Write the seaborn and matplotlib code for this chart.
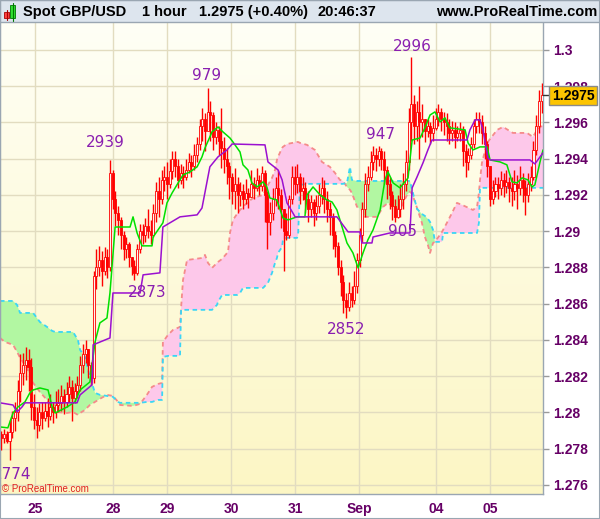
import numpy as np
import matplotlib
matplotlib.use('Agg')
import matplotlib.pyplot as plt
from matplotlib.patches import Rectangle
from matplotlib.colors import LinearSegmentedColormap
import seaborn as sns

# ---- hourly candles (open = previous close) ----
first_open = 1.2788
close = [
    1.2786, 1.2788, 1.2784, 1.2789, 1.2797, 1.2800, 1.2812, 1.2822,
    1.2826, 1.2829, 1.2825, 1.2803, 1.2796, 1.2793, 1.2800, 1.2797,
    1.2801, 1.2798, 1.2803, 1.2800, 1.2804, 1.2805, 1.2809, 1.2806,
    1.2810, 1.2814, 1.2808, 1.2812, 1.2815, 1.2826, 1.2832, 1.2835,
    1.2826, 1.2819, 1.2875, 1.2880, 1.2884, 1.2878, 1.2886, 1.2880,
    1.2932, 1.2918, 1.2910, 1.2906, 1.2898, 1.2890, 1.2893, 1.2886,
    1.2881, 1.2877, 1.2890, 1.2900, 1.2898, 1.2903, 1.2900, 1.2898,
    1.2910, 1.2922, 1.2918, 1.2928, 1.2930, 1.2926, 1.2933, 1.2940,
    1.2936, 1.2928, 1.2932, 1.2930, 1.2934, 1.2938, 1.2936, 1.2942,
    1.2948, 1.2958, 1.2962, 1.2955, 1.2966, 1.2964, 1.2952, 1.2956,
    1.2950, 1.2946, 1.2940, 1.2936, 1.2930, 1.2922, 1.2926, 1.2920,
    1.2922, 1.2918, 1.2921, 1.2919, 1.2926, 1.2924, 1.2928, 1.2925,
    1.2932, 1.2920, 1.2905, 1.2910, 1.2918, 1.2924, 1.2920, 1.2912,
    1.2900, 1.2898, 1.2918, 1.2930, 1.2926, 1.2930, 1.2922, 1.2924,
    1.2918, 1.2912, 1.2916, 1.2910, 1.2914, 1.2920, 1.2924, 1.2918,
    1.2912, 1.2908, 1.2898, 1.2892, 1.2880, 1.2872, 1.2862, 1.2858,
    1.2866, 1.2862, 1.2870, 1.2884, 1.2898, 1.2912, 1.2926, 1.2930,
    1.2938, 1.2942, 1.2940, 1.2944, 1.2940, 1.2934, 1.2926, 1.2920,
    1.2914, 1.2908, 1.2912, 1.2918, 1.2926, 1.2938, 1.2960, 1.2970,
    1.2958, 1.2966, 1.2960, 1.2962, 1.2955, 1.2958, 1.2954, 1.2957,
    1.2962, 1.2966, 1.2962, 1.2960, 1.2958, 1.2954, 1.2956, 1.2952,
    1.2954, 1.2956, 1.2944, 1.2938, 1.2942, 1.2948, 1.2958, 1.2962,
    1.2960, 1.2954, 1.2948, 1.2936, 1.2918, 1.2922, 1.2926, 1.2924,
    1.2928, 1.2925, 1.2927, 1.2924, 1.2922, 1.2926, 1.2924, 1.2928,
    1.2924, 1.2920, 1.2926, 1.2930, 1.2945, 1.2958, 1.2972, 1.2975,
]
high = [
    1.2790, 1.2791, 1.2790, 1.2796, 1.2801, 1.2806, 1.2818, 1.2832,
    1.2833, 1.2836, 1.2835, 1.2830, 1.2810, 1.2803, 1.2805, 1.2806,
    1.2806, 1.2808, 1.2810, 1.2806, 1.2812, 1.2813, 1.2815, 1.2813,
    1.2817, 1.2820, 1.2818, 1.2816, 1.2820, 1.2831, 1.2838, 1.2840,
    1.2834, 1.2828, 1.2878, 1.2890, 1.2892, 1.2889, 1.2891, 1.2890,
    1.2939, 1.2934, 1.2922, 1.2914, 1.2908, 1.2900, 1.2897, 1.2894,
    1.2886, 1.2884, 1.2893, 1.2904, 1.2904, 1.2907, 1.2912, 1.2906,
    1.2915, 1.2927, 1.2930, 1.2934, 1.2936, 1.2938, 1.2940, 1.2944,
    1.2944, 1.2940, 1.2937, 1.2936, 1.2940, 1.2943, 1.2942, 1.2948,
    1.2952, 1.2962, 1.2968, 1.2965, 1.2979, 1.2972, 1.2966, 1.2960,
    1.2958, 1.2968, 1.2952, 1.2946, 1.2938, 1.2932, 1.2935, 1.2930,
    1.2927, 1.2926, 1.2929, 1.2924, 1.2934, 1.2930, 1.2935, 1.2931,
    1.2936, 1.2934, 1.2922, 1.2916, 1.2924, 1.2930, 1.2934, 1.2923,
    1.2912, 1.2910, 1.2920, 1.2936, 1.2936, 1.2937, 1.2932, 1.2930,
    1.2927, 1.2922, 1.2920, 1.2918, 1.2920, 1.2926, 1.2930, 1.2928,
    1.2922, 1.2916, 1.2910, 1.2900, 1.2894, 1.2884, 1.2876, 1.2866,
    1.2872, 1.2870, 1.2878, 1.2888, 1.2902, 1.2916, 1.2932, 1.2936,
    1.2944, 1.2947, 1.2946, 1.2947, 1.2946, 1.2944, 1.2936, 1.2930,
    1.2922, 1.2918, 1.2920, 1.2926, 1.2932, 1.2945, 1.2968, 1.2996,
    1.2975, 1.2972, 1.2980, 1.2970, 1.2960, 1.2962, 1.2960, 1.2964,
    1.2968, 1.2970, 1.2968, 1.2966, 1.2965, 1.2962, 1.2961, 1.2960,
    1.2958, 1.2960, 1.2958, 1.2948, 1.2946, 1.2952, 1.2962, 1.2966,
    1.2966, 1.2964, 1.2958, 1.2950, 1.2932, 1.2928, 1.2930, 1.2930,
    1.2933, 1.2932, 1.2934, 1.2930, 1.2930, 1.2934, 1.2931, 1.2936,
    1.2932, 1.2928, 1.2932, 1.2936, 1.2950, 1.2964, 1.2978, 1.2982,
]
low = [
    1.2779, 1.2783, 1.2783, 1.2774, 1.2786, 1.2790, 1.2795, 1.2806,
    1.2815, 1.2818, 1.2812, 1.2796, 1.2791, 1.2786, 1.2790, 1.2791,
    1.2795, 1.2792, 1.2796, 1.2794, 1.2797, 1.2800, 1.2801, 1.2799,
    1.2803, 1.2806, 1.2795, 1.2805, 1.2808, 1.2812, 1.2822, 1.2827,
    1.2819, 1.2815, 1.2816, 1.2868, 1.2875, 1.2870, 1.2876, 1.2874,
    1.2878, 1.2912, 1.2903, 1.2898, 1.2890, 1.2884, 1.2885, 1.2880,
    1.2876, 1.2873, 1.2876, 1.2888, 1.2893, 1.2894, 1.2896, 1.2893,
    1.2897, 1.2905, 1.2908, 1.2915, 1.2922, 1.2918, 1.2924, 1.2929,
    1.2930, 1.2924, 1.2926, 1.2924, 1.2928, 1.2932, 1.2930, 1.2934,
    1.2938, 1.2945, 1.2950, 1.2944, 1.2955, 1.2950, 1.2945, 1.2948,
    1.2942, 1.2935, 1.2932, 1.2926, 1.2918, 1.2915, 1.2912, 1.2910,
    1.2914, 1.2912, 1.2915, 1.2913, 1.2920, 1.2918, 1.2922, 1.2920,
    1.2922, 1.2905, 1.2890, 1.2898, 1.2906, 1.2914, 1.2912, 1.2902,
    1.2878, 1.2895, 1.2896, 1.2915, 1.2920, 1.2921, 1.2915, 1.2917,
    1.2910, 1.2905, 1.2908, 1.2903, 1.2906, 1.2910, 1.2915, 1.2910,
    1.2905, 1.2898, 1.2890, 1.2886, 1.2876, 1.2864, 1.2855, 1.2852,
    1.2856, 1.2858, 1.2860, 1.2866, 1.2880, 1.2894, 1.2908, 1.2922,
    1.2928, 1.2934, 1.2933, 1.2936, 1.2934, 1.2926, 1.2918, 1.2912,
    1.2906, 1.2905, 1.2907, 1.2908, 1.2912, 1.2922, 1.2934, 1.2950,
    1.2948, 1.2950, 1.2940, 1.2952, 1.2949, 1.2952, 1.2948, 1.2950,
    1.2956, 1.2958, 1.2955, 1.2953, 1.2950, 1.2948, 1.2950, 1.2946,
    1.2950, 1.2950, 1.2936, 1.2930, 1.2934, 1.2940, 1.2946, 1.2954,
    1.2954, 1.2948, 1.2940, 1.2930, 1.2914, 1.2915, 1.2919, 1.2918,
    1.2920, 1.2919, 1.2921, 1.2916, 1.2914, 1.2917, 1.2912, 1.2920,
    1.2916, 1.2909, 1.2916, 1.2922, 1.2928, 1.2942, 1.2954, 1.2965,
]

# ---- Ichimoku cloud (bar position, senkou A, senkou B) ----
cloud_x = [-0.5, 1.3, 4.3, 5.8, 6.9, 9.4, 11.7, 14.2, 16.8, 18.7, 19.8, 24.2,
           26.4, 28.2, 29.0, 30.8, 31.5, 32.6, 34.5, 36.3, 38.9, 41.1, 43.0,
           43.7, 48.5, 51.1, 53.6, 55.5, 57.7, 59.2, 59.5, 61.4, 63.2, 65.8,
           66.2, 66.9, 68.4, 73.9, 75.0, 76.1, 77.6, 79.4, 79.8, 81.3, 83.5,
           84.2, 85.3, 86.8, 87.9, 89.0, 90.5, 92.7, 96.4, 98.2, 99.7, 100.8,
           101.5, 101.9, 103.4, 103.7, 105.2, 108.9, 109.3, 110.0, 112.6,
           115.5, 118.1, 121.0, 122.9, 124.7, 125.8, 127.3, 128.4, 129.1,
           131.0, 132.8, 133.9, 138.4, 140.6, 142.4, 144.3, 146.8, 149.4,
           150.5, 151.3, 153.1, 154.9, 156.0, 157.1, 157.9, 159.0, 159.7,
           162.3, 162.7, 164.1, 166.0, 167.8, 169.7, 173.7, 175.2, 175.9,
           176.3, 177.0, 178.9, 182.6, 184.8, 188.4, 193.6, 195.8, 197.3, 199.5]
span_a = [1.28411, 1.28389, 1.28373, 1.28334, 1.28301, 1.28246, 1.28163,
          1.28113, 1.28069, 1.28030, 1.28003, 1.27997, 1.28003, 1.27986,
          1.27997, 1.28014, 1.28025, 1.28041, 1.28058, 1.28075, 1.28097,
          1.28091, 1.28058, 1.28041, 1.28036, 1.28047, 1.28097, 1.28141,
          1.28157, 1.28163, 1.28389, 1.28428, 1.28455, 1.28472, 1.28577,
          1.28731, 1.28841, 1.28852, 1.28869, 1.28825, 1.28797, 1.28825,
          1.28830, 1.28847, 1.28886, 1.28990, 1.29062, 1.29095, 1.29117,
          1.29134, 1.29156, 1.29183, 1.29200, 1.29255, 1.29294, 1.29338,
          1.29393, 1.29410, 1.29459, 1.29465, 1.29481, 1.29492, 1.29492,
          1.29487, 1.29476, 1.29448, 1.29382, 1.29355, 1.29321, 1.29283,
          1.29277, 1.29244, 1.29228, 1.29211, 1.29134, 1.29117, 1.29079,
          1.29079, 1.29134, 1.29156, 1.29134, 1.29117, 1.29200, 1.29217,
          1.29206, 1.29128, 1.29046, 1.28968, 1.28924, 1.28880, 1.28935,
          1.28941, 1.28996, 1.29007, 1.29046, 1.29101, 1.29156, 1.29145,
          1.29117, 1.29134, 1.29211, 1.29283, 1.29377, 1.29487, 1.29559,
          1.29575, 1.29542, 1.29542, 1.29520, 1.29559, 1.29586]
span_b = [1.28615, 1.28615, 1.28615, 1.28593, 1.28549, 1.28549, 1.28549,
          1.28499, 1.28472, 1.28450, 1.28444, 1.28444, 1.28444, 1.28400,
          1.28345, 1.28306, 1.28262, 1.28196, 1.28108, 1.28097, 1.28091,
          1.28086, 1.28058, 1.28053, 1.28053, 1.28053, 1.28058, 1.28058,
          1.28069, 1.28069, 1.28306, 1.28312, 1.28312, 1.28312, 1.28566,
          1.28566, 1.28566, 1.28566, 1.28566, 1.28566, 1.28566, 1.28593,
          1.28610, 1.28648, 1.28648, 1.28648, 1.28648, 1.28648, 1.28659,
          1.28687, 1.28687, 1.28687, 1.28687, 1.28715, 1.28770, 1.28825,
          1.28852, 1.28880, 1.28913, 1.28952, 1.28963, 1.28963, 1.28979,
          1.29255, 1.29261, 1.29261, 1.29261, 1.29261, 1.29261, 1.29261,
          1.29261, 1.29266, 1.29355, 1.29283, 1.29277, 1.29277, 1.29277,
          1.29277, 1.29277, 1.29277, 1.29277, 1.29277, 1.29277, 1.29277,
          1.29228, 1.29123, 1.29095, 1.29084, 1.29068, 1.29051, 1.29007,
          1.28941, 1.28941, 1.28990, 1.28990, 1.28990, 1.28990, 1.28990,
          1.28990, 1.28990, 1.29046, 1.29239, 1.29239, 1.29239, 1.29239,
          1.29239, 1.29239, 1.29239, 1.29239, 1.29239, 1.29239]

# ---- tenkan-sen / kijun-sen (bar position, value) ----
tenkan_x = [-0.5, 2.4, 4.3, 6.1, 8.7, 10.5, 11.7, 14.2, 17.2, 18.7, 19.8, 24.2,
            27.1, 29.0, 32.6, 34.5, 36.3, 38.9, 40.0, 41.9, 45.5, 47.4, 48.5,
            50.0, 51.8, 55.5, 55.9, 57.7, 59.5, 61.0, 62.9, 65.1, 66.9, 69.5,
            72.1, 73.9, 75.0, 76.8, 77.6, 79.8, 81.6, 84.2, 85.3, 87.9, 89.0,
            90.8, 92.3, 94.2, 96.4, 97.8, 98.9, 101.5, 103.7, 105.6, 108.9,
            111.8, 112.6, 114.8, 117.4, 119.9, 121.8, 123.6, 125.5, 127.3,
            129.5, 131.4, 133.2, 135.0, 136.9, 139.5, 141.3, 142.4, 144.3,
            146.8, 149.8, 150.5, 151.3, 154.2, 156.0, 157.9, 159.7, 161.6,
            163.4, 165.2, 170.8, 171.9, 173.7, 176.3, 178.9, 180.0, 183.7,
            186.2, 188.1, 189.9, 191.8, 194.0, 195.4, 196.5, 198.4, 199.5]
tenkan = [1.27920, 1.27915, 1.27997, 1.28030, 1.28058, 1.28108, 1.28124,
          1.28135, 1.28124, 1.28030, 1.27997, 1.28030, 1.28058, 1.28124,
          1.28168, 1.28389, 1.28494, 1.28521, 1.28659, 1.29023, 1.29023,
          1.29023, 1.29079, 1.28990, 1.28919, 1.28919, 1.28968, 1.29007,
          1.29046, 1.29156, 1.29211, 1.29266, 1.29310, 1.29327, 1.29355,
          1.29410, 1.29459, 1.29520, 1.29548, 1.29575, 1.29548, 1.29514,
          1.29492, 1.29437, 1.29366, 1.29338, 1.29266, 1.29244, 1.29272,
          1.29244, 1.29183, 1.29172, 1.29073, 1.29062, 1.29079, 1.29079,
          1.29200, 1.29244, 1.29200, 1.29172, 1.29161, 1.29117, 1.29023,
          1.28935, 1.28880, 1.28797, 1.28880, 1.28952, 1.29007, 1.29117,
          1.29283, 1.29327, 1.29266, 1.29239, 1.29294, 1.29393, 1.29503,
          1.29514, 1.29570, 1.29641, 1.29658, 1.29603, 1.29625, 1.29570,
          1.29559, 1.29487, 1.29448, 1.29465, 1.29465, 1.29393, 1.29382,
          1.29366, 1.29272, 1.29266, 1.29294, 1.29283, 1.29244, 1.29255,
          1.29382, 1.29448]
kijun_x = [-0.5, 4.3, 5.8, 7.6, 8.7, 27.9, 29.0, 33.4, 33.8, 40.0, 41.1, 51.1,
           52.2, 58.4, 59.5, 65.8, 72.1, 73.9, 76.8, 79.8, 83.1, 85.0, 97.1,
           98.2, 101.9, 103.4, 105.2, 108.2, 123.6, 127.7, 132.1, 132.8, 136.5,
           136.9, 143.1, 150.5, 151.3, 153.1, 155.3, 157.1, 158.6, 171.5,
           172.6, 174.5, 176.3, 177.4, 179.2, 180.0, 194.7, 196.5, 199.5]
kijun = [1.28053, 1.28041, 1.28003, 1.28030, 1.28053, 1.28053, 1.28097,
         1.28152, 1.28373, 1.28411, 1.28659, 1.28659, 1.28759, 1.28770,
         1.29023, 1.29079, 1.29090, 1.29128, 1.29355, 1.29410, 1.29448,
         1.29481, 1.29476, 1.29382, 1.29338, 1.29283, 1.29156, 1.29079,
         1.29079, 1.28996, 1.28996, 1.28935, 1.28935, 1.28968, 1.28990,
         1.28990, 1.29239, 1.29299, 1.29377, 1.29448, 1.29503, 1.29503,
         1.29559, 1.29614, 1.29614, 1.29559, 1.29404, 1.29393, 1.29393,
         1.29371, 1.29432]

# ---- swing labels ----
swing_text = ['2774', '2939', '979', '2873', '2852', '947', '905', '2996']
swing_bar = [10.9, 38.2, 75.7, 53.6, 126.9, 139.5, 147.6, 151.2]
swing_price = [1.27655, 1.29487, 1.29857, 1.28659, 1.28455, 1.29531, 1.28996, 1.30017]

day_labels = ['25', '28', '29', '30', '31', 'Sep', '04', '05']
day_pos = [12.4, 41.1, 61.0, 84.6, 108.2, 131.7, 160.1, 180.0]
price_ticks = [1.276, 1.278, 1.28, 1.282, 1.284, 1.286, 1.288, 1.29,
               1.292, 1.294, 1.296, 1.298, 1.3]
last_price = 1.2975

# ---------------------------------------------------------------
sns.set_theme(style='white')
plt.rcParams['font.family'] = ['Liberation Sans', 'DejaVu Sans']

W, H = 600, 519
fig = plt.figure(figsize=(W / 100, H / 100), dpi=100)
fig.patch.set_facecolor('white')
ax = fig.add_axes([0, 25 / H, 543 / W, 472 / H])

x0, x1 = -0.5, 199.5
y0, y1 = 1.27550, 1.30154

# pale yellow gradient background
bg = LinearSegmentedColormap.from_list('bg', ['#fcf6c4', '#fffff6'])
ax.imshow(np.linspace(0, 1, 256).reshape(-1, 1), extent=[x0, x1, y0, y1],
          origin='lower', aspect='auto', cmap=bg, zorder=0)
ax.set_axisbelow(True)
ax.grid(True, color='#e2dcc0', lw=1)

cx = np.array(cloud_x)
sa = np.array(span_a)
sb = np.array(span_b)
ax.fill_between(cx, sa, sb, where=sa >= sb, interpolate=True,
                color='#fdc8ea', lw=0, zorder=1)
ax.fill_between(cx, sa, sb, where=sa < sb, interpolate=True,
                color='#b2f7a2', lw=0, zorder=1)
sns.lineplot(x=cx, y=sa, ax=ax, color='#f58a8a', lw=1.3, linestyle=(0, (2.5, 2)),
             zorder=2)
sns.lineplot(x=cx, y=sb, ax=ax, color='#3ad6f5', lw=1.3, linestyle=(0, (2.5, 2)),
             zorder=2)

# candles
c = np.array(close)
o = np.r_[first_open, c[:-1]]
hi = np.maximum(np.array(high), np.maximum(o, c))
lo = np.minimum(np.array(low), np.minimum(o, c))
bars = np.arange(len(c))
ax.vlines(bars, lo, hi, color='#ff0000', lw=1.0, zorder=3)
fill = np.where(c >= o, '#fff4f0', '#ff0000')
ax.bar(bars, np.maximum(np.abs(c - o), 0.00004), bottom=np.minimum(o, c),
       width=0.75, color=fill, edgecolor='#ff0000', lw=0.6, zorder=4)

sns.lineplot(x=tenkan_x, y=tenkan, ax=ax, color='#00e000', lw=1.1, zorder=5)
sns.lineplot(x=kijun_x, y=kijun, ax=ax, color='#9b10d0', lw=1.1, zorder=5)

for t, bx, py in zip(swing_text, swing_bar, swing_price):
    ha = 'right' if t == '2774' else 'center'
    ax.text(bx, py, t, ha=ha, va='center', fontsize=11, color='#8a1fb0',
            family='DejaVu Sans', zorder=6)

ax.set_xlim(x0, x1)
ax.set_ylim(y0, y1)
ax.yaxis.tick_right()
ax.set_yticks(price_ticks)
ax.set_yticklabels([f'{v:.3f}'.rstrip('0').rstrip('.') for v in price_ticks],
                   fontweight='bold')
ax.set_xticks(day_pos)
ax.set_xticklabels(day_labels, fontweight='bold')
ax.tick_params(axis='both', colors='#9a9a9a', labelcolor='#660066',
               labelsize=10, length=4, width=1, pad=3)
ax.tick_params(axis='x', pad=2)
ax.set_xlabel('')
ax.set_ylabel('')
for s in ['left', 'right', 'bottom']:
    ax.spines[s].set_visible(True)
    ax.spines[s].set_color('#9aa6b2')
    ax.spines[s].set_linewidth(1)
ax.spines['top'].set_visible(False)


def fx(px):
    return px / W


def fy(py):
    return 1 - py / H


# header bar
fig.patches.append(Rectangle((0, fy(22)), 1, 22 / H, transform=fig.transFigure,
                             facecolor='#dde5ee', edgecolor='#9aa6b2', lw=1))
# little candle icon
fig.lines.append(plt.Line2D([fx(6.5), fx(6.5)], [fy(20), fy(10)],
                            transform=fig.transFigure, color='#aa0000', lw=0.8))
fig.patches.append(Rectangle((fx(4), fy(18)), 5 / W, 6 / H, transform=fig.transFigure,
                             facecolor='#ff4040', edgecolor='#aa0000', lw=0.6))
fig.lines.append(plt.Line2D([fx(12.5), fx(12.5)], [fy(21), fy(3)],
                            transform=fig.transFigure, color='#007700', lw=0.8))
fig.patches.append(Rectangle((fx(10), fy(18)), 5 / W, 13 / H, transform=fig.transFigure,
                             facecolor='#30e030', edgecolor='#007700', lw=0.6))

hdr = dict(fontsize=10.5, fontweight='bold', color='black', va='center')
fig.text(fx(23), fy(12), 'Spot GBP/USD', ha='left', **hdr)
fig.text(fx(142), fy(12), '1 hour', ha='left', **hdr)
fig.text(fx(199), fy(12), '1.2975 (+0.40%)', ha='left', **hdr)
fig.text(fx(318), fy(12), '20:46:37', ha='left', **hdr)
fig.text(fx(597), fy(12), 'www.ProRealTime.com', ha='right', **hdr)

# last price marker on the scale
fig.lines.append(plt.Line2D([fx(543), fx(550)], [fy(95), fy(95)],
                            transform=fig.transFigure, color='#333333', lw=1))
fig.patches.append(Rectangle((fx(549), fy(105)), 48 / W, 19 / H,
                             transform=fig.transFigure, facecolor='#fcc400',
                             edgecolor='#8a8a8a', lw=1, zorder=10))
fig.text(fx(573), fy(95.5), f'{last_price:.4f}', ha='center', va='center',
         fontsize=10, fontweight='bold', color='black', zorder=11)

fig.text(fx(2), fy(489), '\u00a9 ProRealTime.com', ha='left', va='center',
         fontsize=7, color='#e02020')

# outer frame
fig.patches.append(Rectangle((0, 0), 1, 1, transform=fig.transFigure, fill=False,
                             edgecolor='#9aa6b2', lw=1.5))

fig.savefig('out.png', dpi=100)
